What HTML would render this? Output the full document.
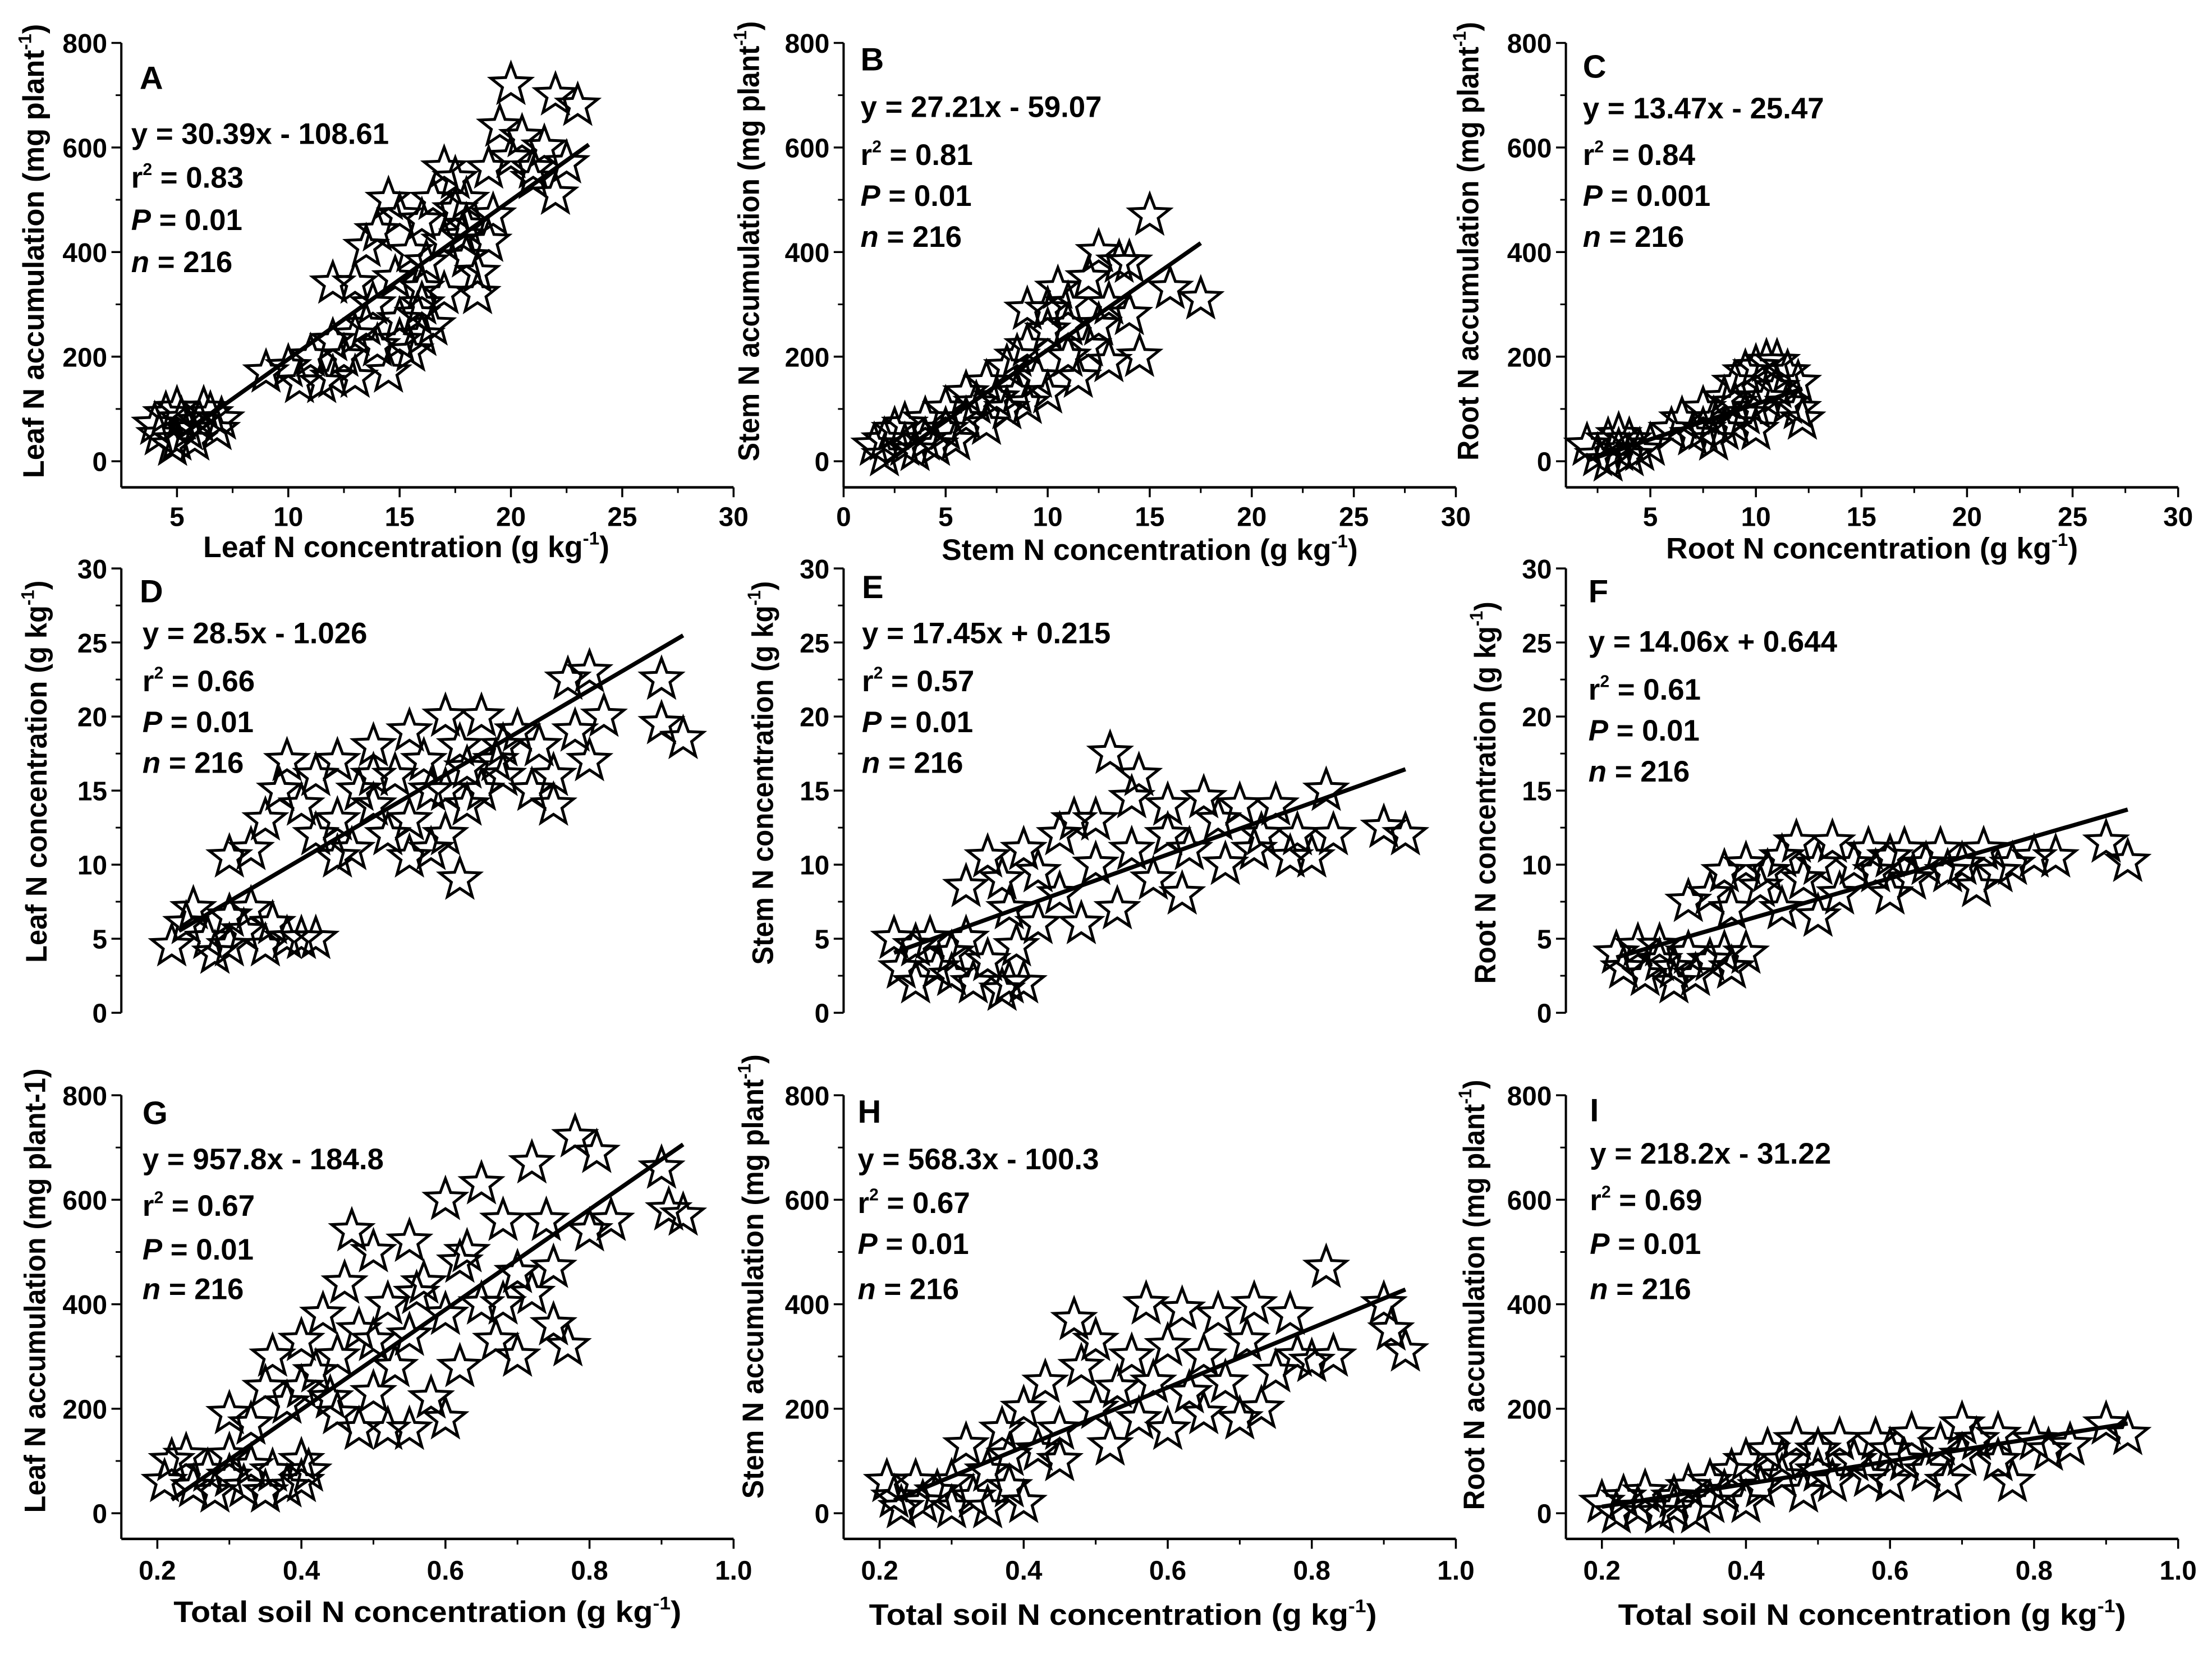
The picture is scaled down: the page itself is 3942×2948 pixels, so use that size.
<!DOCTYPE html>
<html><head><meta charset="utf-8"><title>N accumulation regressions</title>
<style>
html,body{margin:0;padding:0;background:#fff;}
svg{display:block;}
text{font-family:"Liberation Sans",Arial,sans-serif;font-weight:bold;fill:#000;}
</style></head>
<body>
<svg id="fig" xmlns="http://www.w3.org/2000/svg" width="3942" height="2948" viewBox="0 0 1568 1172.6"></svg>
<script>
// ---------- data ----------
const aX=[4,4.2,4.5,5,5,5.5,5.2,6,6.5,7,6.8,4.8,5.8,6.2,9,10,10.5,11,11.5,12,12,12.5,13,13,13.5,14,14.5,15,15,15.5,16,16,16.5,17,13,12,13.5,14,14.5,15,15.5,16,16,16.5,17,17,17.5,18,18,18.5,18.5,19,19,19.5,20,20,20.5,21,21,21.5,22,22,22.5,23,17.5,18,14.8,16.2,17.8,19.2,15.8,13.8];
const aY=[70,50,90,100,40,60,80,75,90,80,60,30,40,100,170,180,150,200,150,160,230,200,160,240,260,220,170,230,270,210,240,300,260,320,340,340,410,440,500,470,400,330,460,500,420,560,480,390,500,360,320,420,560,640,580,720,620,540,560,600,510,700,570,680,540,450,350,380,430,470,280,300];
const bX=[1.5,2,2,2.5,3,3,3.5,4,4,4.5,5,5,5.5,6,6,6.5,7,7,7.5,8,8,8.5,9,9,9.5,10,10,10,10.5,11,11,11.5,12,12,12.5,12.5,13,13,13.5,14,14,14.5,15,16,17.5,11,9,8.5];
const bY=[30,10,40,60,30,70,20,80,40,30,100,60,40,130,80,110,150,70,120,180,100,130,220,110,160,250,290,130,330,200,300,160,350,220,400,260,300,190,380,380,280,200,470,330,310,260,290,200];
const cX=[2,2.5,3,3,3.5,3.5,4,4,4.5,5,6,6.5,7,7.5,7.5,8,8,8.5,8.5,9,9,9.5,9.5,10,10,10.5,10.5,11,11,11.5,11.5,12,12,12.2,9,10];
const cY=[30,10,40,0,20,50,10,40,20,30,60,80,50,100,60,80,40,120,60,150,70,170,90,180,100,190,120,190,140,110,170,150,100,80,110,60];
const dX=[0.22,0.24,0.25,0.27,0.28,0.3,0.3,0.32,0.33,0.35,0.36,0.38,0.4,0.42,0.3,0.33,0.35,0.37,0.38,0.4,0.42,0.42,0.45,0.45,0.47,0.48,0.5,0.5,0.52,0.53,0.55,0.55,0.57,0.58,0.6,0.6,0.6,0.62,0.62,0.63,0.65,0.67,0.68,0.7,0.72,0.73,0.75,0.75,0.77,0.78,0.8,0.8,0.82,0.9,0.9,0.93,0.65,0.55,0.45,0.58,0.63,0.68,0.5];
const dY=[4.5,6,7,5,4,6.5,4.5,5.5,7,4.5,6,5,5,5,10.5,11,13,15,17,14,16,12,17,13,11,15,18,14,12,16,19,13,17,11,20,15,12,18,9,14,20,17,16,19,15,18,14,16,22.5,19,23,17,20,22.5,19.5,18.5,15,10.5,10.5,15,16.5,18,16];
const eX=[0.22,0.23,0.25,0.25,0.27,0.28,0.3,0.3,0.32,0.33,0.35,0.37,0.38,0.4,0.39,0.32,0.35,0.37,0.38,0.4,0.42,0.42,0.45,0.45,0.47,0.48,0.5,0.5,0.52,0.53,0.55,0.55,0.56,0.58,0.6,0.6,0.62,0.63,0.65,0.67,0.68,0.7,0.72,0.73,0.75,0.77,0.78,0.8,0.82,0.83,0.9,0.93];
const eY=[5,3,4.5,2,5,3,4,2.5,5,2,3.5,1.5,2,2,4.5,8.5,10.5,9,7,11,9.5,6,12,8,13,6,10,13,17.5,7,14.5,11,16,9,12,14,8,11,14.5,13,10,14,11,12,14,10.5,12,10.5,15,12,12.5,12];
const fX=[0.22,0.23,0.25,0.26,0.28,0.28,0.3,0.3,0.32,0.33,0.35,0.37,0.38,0.4,0.32,0.35,0.37,0.38,0.4,0.42,0.43,0.45,0.45,0.47,0.48,0.5,0.5,0.52,0.53,0.55,0.57,0.58,0.6,0.6,0.62,0.63,0.65,0.67,0.68,0.7,0.72,0.73,0.75,0.77,0.8,0.83,0.9,0.93];
const fY=[4,3,4.5,2.5,3.5,4.5,3,2,4,2.5,3.5,4,3,4,7.5,8,9.5,7,10,8.5,9.5,10.5,7,11.5,9,10,6.5,11.5,8,10,11,9.5,10.5,8,11,9,10,11,9.5,10,8.5,11,9.5,10,10.5,10.5,11.5,10.2];
const gX=[0.21,0.22,0.24,0.25,0.27,0.28,0.3,0.3,0.32,0.33,0.35,0.36,0.38,0.4,0.41,0.4,0.3,0.33,0.35,0.36,0.38,0.4,0.4,0.42,0.43,0.45,0.45,0.46,0.47,0.48,0.48,0.5,0.5,0.52,0.52,0.53,0.55,0.55,0.55,0.57,0.58,0.6,0.6,0.6,0.62,0.62,0.65,0.65,0.67,0.68,0.7,0.7,0.72,0.72,0.74,0.75,0.75,0.77,0.78,0.8,0.81,0.83,0.9,0.91,0.93,0.5,0.56,0.63,0.68,0.44];
const gY=[60,100,110,50,80,40,70,110,50,90,40,80,50,60,80,100,190,170,240,300,210,330,240,270,380,190,300,440,540,160,350,500,230,400,160,280,520,160,340,440,220,600,380,180,480,280,630,400,330,560,460,300,670,420,560,360,470,320,720,540,690,560,660,580,570,330,420,500,400,220];
const hX=[0.21,0.22,0.23,0.25,0.26,0.28,0.3,0.3,0.32,0.33,0.35,0.35,0.37,0.38,0.38,0.4,0.4,0.42,0.43,0.45,0.45,0.47,0.48,0.5,0.5,0.52,0.53,0.55,0.56,0.57,0.58,0.6,0.6,0.62,0.63,0.65,0.65,0.67,0.68,0.7,0.71,0.72,0.73,0.75,0.77,0.78,0.8,0.82,0.83,0.9,0.91,0.93];
const hY=[60,30,10,60,20,40,10,60,130,30,80,10,160,50,110,20,200,120,250,160,100,370,280,200,330,130,240,300,180,400,250,320,160,390,230,300,190,380,250,180,330,400,200,270,380,300,290,470,300,400,350,310];
const iX=[0.2,0.22,0.23,0.25,0.26,0.28,0.3,0.3,0.32,0.33,0.35,0.35,0.37,0.38,0.4,0.4,0.42,0.43,0.45,0.45,0.47,0.48,0.5,0.5,0.52,0.53,0.55,0.57,0.58,0.6,0.6,0.62,0.63,0.65,0.67,0.68,0.7,0.7,0.72,0.75,0.75,0.77,0.8,0.82,0.85,0.9,0.93];
const iY=[20,0,30,10,40,0,30,10,50,0,20,60,40,80,20,100,50,120,70,100,140,40,120,80,60,140,100,70,140,120,60,100,150,80,130,60,170,110,140,100,150,60,140,120,130,170,150];
// regression coefficients [slope, intercept]
const slopes=[30.39,27.21,13.47,28.5,17.45,14.06,957.8,568.3,218.2];
const intercepts=[-108.61,-59.07,-25.47,-1.026,0.215,0.644,-184.8,-100.3,-31.22];
const fitRanges=[[5,23.5],[2,17.5],[2,12.2],[0.23,0.93],[0.22,0.93],[0.22,0.93],[0.22,0.93],[0.22,0.93],[0.2,0.93]];
const eqText=["y = 30.39x - 108.61","y = 27.21x - 59.07","y = 13.47x - 25.47","y = 28.5x - 1.026","y = 17.45x + 0.215","y = 14.06x + 0.644","y = 957.8x - 184.8","y = 568.3x - 100.3","y = 218.2x - 31.22"];
const r2Text=["0.83","0.81","0.84","0.66","0.57","0.61","0.67","0.67","0.69"];
const pText=["0.01","0.01","0.001","0.01","0.01","0.01","0.01","0.01","0.01"];
const letters=["A","B","C","D","E","F","G","H","I"];
const accTicks=[0,200,400,600,800];
const accMinor=[100,300,500,700];
const concTicks=[0,5,10,15,20,25,30];
const concMinor=[2.5,7.5,12.5,17.5,22.5,27.5];
const soilTicks=[0.2,0.4,0.6,0.8,1.0];
const soilMinor=[0.3,0.5,0.7,0.9];

// ---------- layout ----------
const NS="http://www.w3.org/2000/svg";
const svg=document.getElementById('fig');
function el(tag,attrs,parent){const e=document.createElementNS(NS,tag);for(const k in attrs)e.setAttribute(k,attrs[k]);(parent||svg).appendChild(e);return e;}
function lin(d0,d1,r0,r1){return v=>r0+(v-d0)/(d1-d0)*(r1-r0);}

const rows=[
 {y0:327,y1:30.4,dom:[0,800],yt:accTicks,ym:accMinor,axisY:345.5,yTop:30.4},
 {y0:718,y1:403,dom:[0,30],yt:concTicks,ym:concMinor,axisY:null,yTop:403},
 {y0:1072.8,y1:776.5,dom:[0,800],yt:accTicks,ym:accMinor,axisY:1091,yTop:776.5}
];
const panels=[
 {r:0,ax:86,xd:[2.5,30],xt:[5,10,15,20,25,30],xm:[7.5,12.5,17.5,22.5,27.5],xs:aX,ys:aY,tx:93,lx:99,ly:63,ey:[102,133,163,193],
  xt1:"Leaf N concentration (g kg",xtc:288,xtw:288,xty:395,yt1:"Leaf N accumulation (mg plant",yt2:"-1",ytx:24,yty:178,ytw:322},
 {r:0,ax:598,xd:[0,30],xt:[0,5,10,15,20,25,30],xm:[2.5,7.5,12.5,17.5,22.5,27.5],xs:bX,ys:bY,tx:610,lx:610,ly:50,ey:[83,117,146,175],
  xt1:"Stem N concentration (g kg",xtc:815,xtw:295,xty:397,yt1:"Stem N accumulation (mg plant",yt2:"-1",ytx:531,yty:171,ytw:312},
 {r:0,ax:1110,xd:[1,30],xt:[5,10,15,20,25,30],xm:[2.5,7.5,12.5,17.5,22.5,27.5],xs:cX,ys:cY,tx:1122,lx:1122,ly:55,ey:[84,117,146,175],
  xt1:"Root N concentration (g kg",xtc:1327,xtw:292,xty:396,yt1:"Root N accumulation (mg plant",yt2:"-1",ytx:1041,yty:171,ytw:311},
 {r:1,ax:86,xd:[0.15,1.0],xs:dX,ys:dY,tx:101,lx:99,ly:427,ey:[456,490,519,548],
  yt1:"Leaf N concentration (g kg",yt2:"-1",ytx:26,yty:547,ytw:271},
 {r:1,ax:598,xd:[0.15,1.0],xs:eX,ys:eY,tx:611,lx:611,ly:424,ey:[456,490,519,548],
  yt1:"Stem N concentration (g kg",yt2:"-1",ytx:541,yty:548,ytw:272},
 {r:1,ax:1110,xd:[0.15,1.0],xs:fX,ys:fY,tx:1126,lx:1126,ly:427,ey:[462,496,525,554],
  yt1:"Root N concentration (g kg",yt2:"-1",ytx:1053,yty:562,ytw:271},
 {r:2,ax:86,xd:[0.15,1.0],xt:soilTicks,xm:soilMinor,xs:gX,ys:gY,tx:101,lx:101,ly:797,ey:[829,862,893,921],
  xt1:"Total soil N concentration (g kg",xtc:303,xtw:360,xty:1150,yt1:"Leaf N accumulation (mg plant-1)",yt2:null,ytx:25,yty:915,ytw:315},
 {r:2,ax:598,xd:[0.15,1.0],xt:soilTicks,xm:soilMinor,xs:hX,ys:hY,tx:608,lx:608,ly:796,ey:[829,860,889,921],
  xt1:"Total soil N concentration (g kg",xtc:796,xtw:360,xty:1152,yt1:"Stem N accumulation (mg plant",yt2:"-1",ytx:534,yty:905,ytw:315},
 {r:2,ax:1110,xd:[0.15,1.0],xt:soilTicks,xm:soilMinor,xs:iX,ys:iY,tx:1127,lx:1127,ly:795,ey:[825,858,889,921],
  xt1:"Total soil N concentration (g kg",xtc:1327,xtw:360,xty:1152,yt1:"Root N accumulation (mg plant",yt2:"-1",ytx:1045,yty:918,ytw:305}
];

function starPath(cx,cy,R){
  const r=R*0.42;let d="";
  for(let k=0;k<10;k++){const a=-Math.PI/2+k*Math.PI/5;const rr=k%2?r:R;
    d+=(k?"L":"M")+(cx+rr*Math.cos(a)).toFixed(2)+" "+(cy+rr*Math.sin(a)).toFixed(2);}
  return d+"Z";
}

panels.forEach((p,i)=>{
  const row=rows[p.r];
  const g=el('g',{});
  
  
  const X=lin(p.xd[0],p.xd[1],p.ax,p.ax+434);
  const Y=lin(row.dom[0],row.dom[1],row.y0,row.y1);
  const bottom=row.axisY!==null?row.axisY:row.y0;
  const ya=el('line',{x1:p.ax,y1:row.yTop,x2:p.ax,y2:bottom,stroke:'#000','stroke-width':1.6},g);
  
  
  row.yt.forEach(v=>{
    el('line',{x1:p.ax-7,y1:Y(v),x2:p.ax,y2:Y(v),stroke:'#000','stroke-width':1.4},g);
    const t=el('text',{x:p.ax-10,y:Y(v)+7,'text-anchor':'end','font-size':19},g);
    t.textContent=v;
    
    
  });
  row.ym.forEach(v=>{el('line',{x1:p.ax-4,y1:Y(v),x2:p.ax,y2:Y(v),stroke:'#000','stroke-width':1.2},g);});
  if(row.axisY!==null){
    const xa=el('line',{x1:p.ax,y1:row.axisY,x2:p.ax+434,y2:row.axisY,stroke:'#000','stroke-width':1.8},g);
    
    
    p.xt.forEach(v=>{
      el('line',{x1:X(v),y1:row.axisY,x2:X(v),y2:row.axisY+7,stroke:'#000','stroke-width':1.4},g);
      const t=el('text',{x:X(v),y:row.axisY+(p.r===0?27.5:29),'text-anchor':'middle','font-size':19},g);
      t.textContent=(p.r===2?v.toFixed(1):v);
      
      
    });
    p.xm.forEach(v=>{el('line',{x1:X(v),y1:row.axisY,x2:X(v),y2:row.axisY+4,stroke:'#000','stroke-width':1.2},g);});
    const xt=el('text',{x:p.xtc,y:p.xty,'text-anchor':'middle','font-size':21,textLength:p.xtw,lengthAdjust:'spacingAndGlyphs'},g);
    
    
    xt.appendChild(document.createTextNode(p.xt1));
    const s=el('tspan',{dy:-9,'font-size':13},xt);s.textContent='-1';
    const c=el('tspan',{dy:9},xt);c.textContent=')';
  }
  const yt=el('text',{x:0,y:0,'text-anchor':'middle','font-size':21,textLength:p.ytw,lengthAdjust:'spacingAndGlyphs',
    transform:`translate(${p.ytx+7},${p.yty}) rotate(-90)`},g);
  
  
  yt.appendChild(document.createTextNode(p.yt1));
  if(p.yt2){const s=el('tspan',{dy:-9,'font-size':13},yt);s.textContent=p.yt2;const c=el('tspan',{dy:9},yt);c.textContent=')';}
  const pts=el('g',{fill:'none',stroke:'#000','stroke-width':2,'stroke-linejoin':'miter'},g);
  
  
  p.xs.forEach((xv,k)=>{
    const s=el('path',{d:starPath(X(xv),Y(p.ys[k]),15)},pts);
    
    
  });
  const fr=fitRanges[i];
  const rl=el('line',{x1:X(fr[0]),y1:Y(slopes[i]*fr[0]+intercepts[i]),x2:X(fr[1]),y2:Y(slopes[i]*fr[1]+intercepts[i]),stroke:'#000','stroke-width':3},g);
  
  
  const L=el('text',{x:p.lx,y:p.ly,'font-size':23},g);L.textContent=letters[i];
  
  
  const e1=el('text',{x:p.tx,y:p.ey[0],'font-size':21},g);e1.textContent=eqText[i];
  
  
  const e2=el('text',{x:p.tx,y:p.ey[1],'font-size':21},g);
  
  
  e2.appendChild(document.createTextNode('r'));
  const sp=el('tspan',{dy:-9,'font-size':12},e2);sp.textContent='2';
  const rest=el('tspan',{dy:9},e2);rest.textContent=' = '+r2Text[i];
  const e3=el('text',{x:p.tx,y:p.ey[2],'font-size':21},g);
  
  
  const pi=el('tspan',{'font-style':'italic'},e3);pi.textContent='P';
  e3.appendChild(document.createTextNode(' = '+pText[i]));
  const e4=el('text',{x:p.tx,y:p.ey[3],'font-size':21},g);
  
  
  const ni=el('tspan',{'font-style':'italic'},e4);ni.textContent='n';
  e4.appendChild(document.createTextNode(' = 216'));
});
</script>
</body></html>
